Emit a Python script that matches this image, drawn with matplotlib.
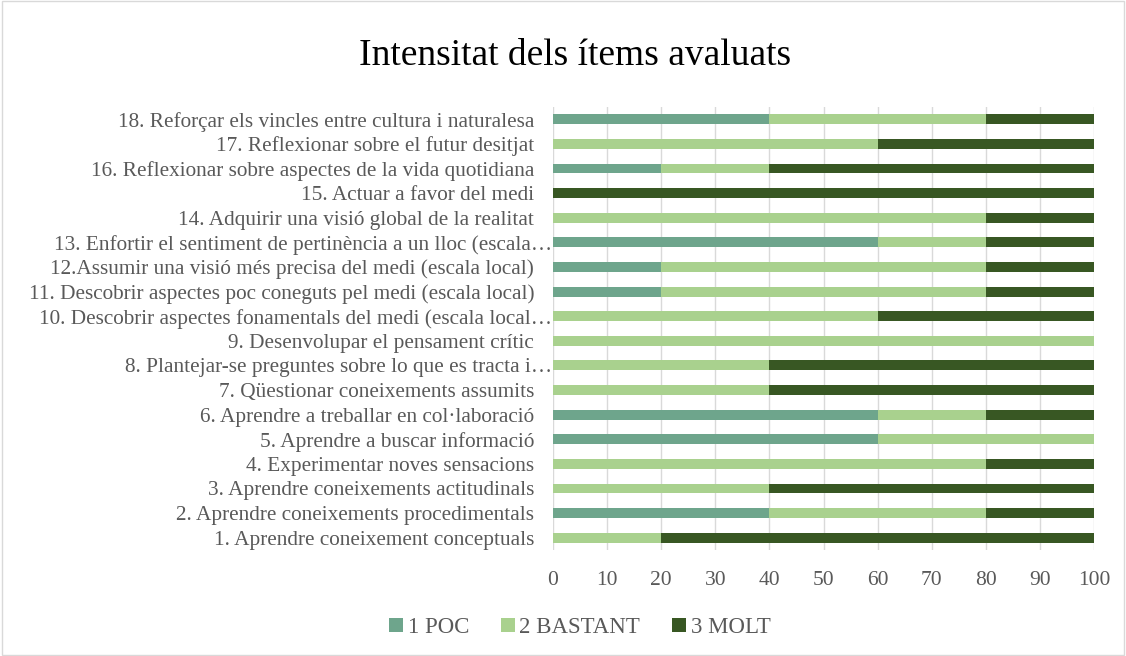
import matplotlib
matplotlib.use("Agg")
import matplotlib.pyplot as plt
from matplotlib.patches import Rectangle
from matplotlib.transforms import ScaledTranslation

categories = [
    "1. Aprendre coneixement conceptuals",
    "2. Aprendre coneixements procedimentals",
    "3. Aprendre coneixements actitudinals",
    "4. Experimentar noves sensacions",
    "5. Aprendre a buscar informació",
    "6. Aprendre a treballar en col·laboració",
    "7. Qüestionar coneixements assumits",
    "8. Plantejar-se preguntes sobre lo que es tracta i…",
    "9. Desenvolupar el pensament crític",
    "10. Descobrir aspectes fonamentals del medi (escala local…",
    "11. Descobrir aspectes poc coneguts pel medi (escala local)",
    "12.Assumir una visió més precisa del medi (escala local)",
    "13. Enfortir el sentiment de pertinència a un lloc (escala…",
    "14. Adquirir una visió global de la realitat",
    "15. Actuar a favor del medi",
    "16. Reflexionar sobre aspectes de la vida quotidiana",
    "17. Reflexionar sobre el futur desitjat",
    "18. Reforçar els vincles entre cultura i naturalesa",
]
poc     = [0, 40, 0, 0, 60, 60, 0, 0, 0, 0, 20, 20, 60, 0, 0, 20, 0, 40]
bastant = [20, 40, 40, 80, 40, 20, 40, 40, 100, 60, 60, 60, 20, 80, 0, 20, 60, 40]
molt    = [80, 20, 60, 20, 0, 20, 60, 60, 0, 40, 20, 20, 20, 20, 100, 60, 40, 20]
series_names = ["1 POC", "2 BASTANT", "3 MOLT"]
colors = ["#6ea58c", "#a9d18e", "#385723"]
xticks = [0, 10, 20, 30, 40, 50, 60, 70, 80, 90, 100]

plt.rcParams['font.family'] = ['Liberation Serif', 'DejaVu Serif']
txt = "#595959"

fig = plt.figure(figsize=(11.26, 6.56), dpi=100)
ax = fig.add_axes([553/1126, 106/656, (1094-553)/1126, 443/656])

y = list(range(len(categories)))
left = [0]*len(categories)
for vals, name, c in zip([poc, bastant, molt], series_names, colors):
    ax.barh(y, vals, left=left, height=0.4, color=c, label=name, zorder=3)
    left = [a + b for a, b in zip(left, vals)]

ax.set_xlim(0, 100)
ax.set_ylim(-0.5, len(categories) - 0.5)
ax.set_xticks(xticks)
ax.set_xticklabels([str(t) for t in xticks], fontsize=15.5, color=txt)
ax.set_yticks(y)
ax.set_yticklabels(categories, fontsize=15.3, color=txt)
ax.tick_params(axis='y', length=0, pad=13.5)
ax.tick_params(axis='x', length=0, pad=15)
ax.grid(axis='x', color='#d9d9d9', linewidth=1, zorder=0)
for s in ax.spines.values():
    s.set_visible(False)

# truncated labels (ending with an ellipsis) run up to the axis, as in the reference
shift = ScaledTranslation(18/100, 0, fig.dpi_scale_trans)
for lab in ax.get_yticklabels():
    if lab.get_text().endswith("…"):
        lab.set_transform(lab.get_transform() + shift)

fig.text(0.511, 0.915, "Intensitat dels ítems avaluats", ha='center', va='center',
         fontsize=27, color='black')

leg = fig.legend(loc='center', bbox_to_anchor=(0.515, 0.043), ncol=3, frameon=False,
                 fontsize=16.5, handlelength=0.6, handleheight=0.6, columnspacing=1.4,
                 handletextpad=0.2)
for t in leg.get_texts():
    t.set_color(txt)

fig.patches.append(Rectangle((0.002, 0.002), 0.996, 0.996, transform=fig.transFigure,
                             fill=False, edgecolor='#d9d9d9', linewidth=1))

fig.savefig("out.png", dpi=100, facecolor='white')
